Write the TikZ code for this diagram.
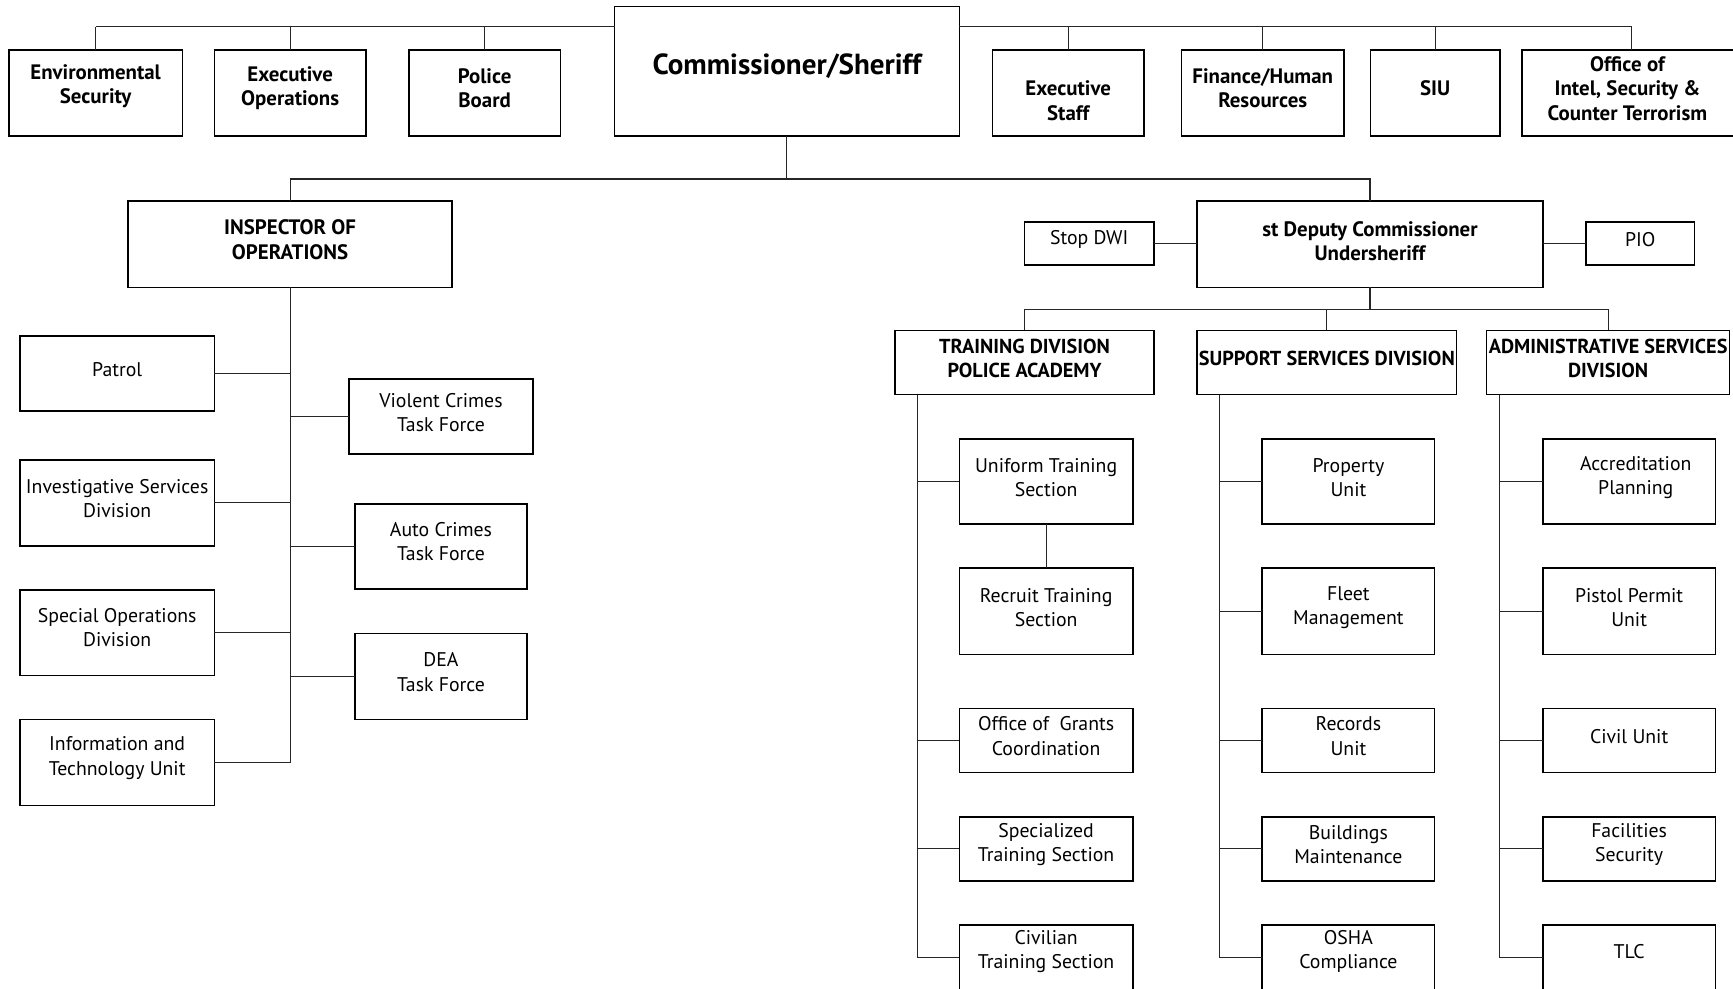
\documentclass[tikz,border=0pt]{standalone}
\usepackage{fontspec}
\setmainfont{PT Sans}
\tikzset{
  box/.style={draw=black, line width=1.4pt, rectangle, inner sep=0pt, outer sep=0pt},
  lbl/.style={font=\fontsize{17.9}{22}\selectfont, align=center, inner sep=0pt, text=black},
  bld/.style={font=\bfseries\fontsize{18.9}{22}\selectfont},
  dvb/.style={font=\bfseries\fontsize{18.3}{22}\selectfont},
  big/.style={font=\bfseries\fontsize{26.3}{30}\selectfont},
  conn/.style={draw=black!85, line width=1pt}
}
\newcommand\org[8][]{%
  \node[box, minimum width={#5-#3}, minimum height={#6-#4},
    label={[lbl,#1,yshift={(#4+#6)/2-#7-1}]center:{#8}}]
    (#2) at ({(#3+#5)/2},{(#4+#6)/2}) {};}
\begin{document}
\begin{tikzpicture}[x=1pt,y=-1pt]
\useasboundingbox (0,0) rectangle (1568,894);
\clip (0,0) rectangle (1568,894);
\fill[white] (0,0) rectangle (1568,894);
% top row
\org[bld]{envsec}{8}{45}{165}{123}{77}{Environmental\\Security}
\org[bld]{execops}{194}{45}{331}{123}{79}{Executive\\Operations}
\org[bld]{policeb}{370}{45}{507}{123}{79}{Police\\Board}
\org[big]{comm}{556}{6}{868}{123}{59}{Commissioner/Sheriff}
\org[bld]{execstaff}{898}{45}{1035}{123}{90}{Executive\\Staff}
\org[bld]{finance}{1069}{45}{1216}{123}{79}{Finance/Human\\Resources}
\org[bld]{siu}{1240}{45}{1357}{123}{79}{SIU}
\org[bld,xshift=-4pt]{intel}{1377}{45}{1576}{123}{79}{Office of\\Intel, Security \&\\Counter Terrorism}
% inspector branch
\org[bld]{insp}{116}{182}{409}{260}{216}{INSPECTOR OF\\OPERATIONS}
\org{patrol}{18}{304}{194}{372}{333}{Patrol}
\org{invest}{18}{416}{194}{494}{450}{Investigative Services\\Division}
\org{specops}{18}{534}{194}{611}{567}{Special Operations\\Division}
\org{itu}{18}{651}{194}{729}{685}{Information and\\Technology Unit}
\org{violent}{316}{343}{482}{411}{372}{Violent Crimes\\Task Force}
\org{auto}{321}{456}{477}{533}{489}{Auto Crimes\\Task Force}
\org{dea}{321}{573}{477}{651}{607}{DEA\\Task Force}
% deputy branch
\org[bld]{deputy}{1083}{182}{1396}{260}{217}{st Deputy Commissioner\\Undersheriff}
\org{stopdwi}{927}{201}{1044}{240}{216}{Stop DWI}
\org{pio}{1435}{201}{1533}{240}{216}{PIO}
\org[dvb]{train}{810}{299}{1044}{357}{323}{TRAINING DIVISION\\POLICE ACADEMY}
\org[dvb]{support}{1083}{299}{1318}{357}{323}{SUPPORT SERVICES DIVISION}
\org[dvb]{admin}{1345}{299}{1565}{357}{323}{ADMINISTRATIVE SERVICES\\DIVISION}
% training column
\org{uniform}{868}{397}{1025}{474}{431}{Uniform Training\\Section}
\org{recruit}{868}{514}{1025}{592}{549}{Recruit Training\\Section}
\org{grants}{868}{641}{1025}{699}{665}{Office of~ Grants\\Coordination}
\org{special}{868}{739}{1025}{797}{763}{Specialized\\Training Section}
\org{civilian}{868}{837}{1025}{896}{860}{Civilian\\Training Section}
% support column
\org{property}{1142}{397}{1298}{474}{431}{Property\\Unit}
\org{fleet}{1142}{514}{1298}{592}{549}{Fleet\\Management}
\org{records}{1142}{641}{1298}{699}{665}{Records\\Unit}
\org{buildings}{1142}{739}{1298}{797}{763}{Buildings\\Maintenance}
\org{osha}{1142}{837}{1298}{896}{860}{OSHA\\Compliance}
% admin column
\org[xshift=6pt]{accred}{1396}{397}{1552}{474}{431}{Accreditation\\Planning}
\org{pistol}{1396}{514}{1552}{592}{549}{Pistol Permit\\Unit}
\org{civil}{1396}{641}{1552}{699}{665}{Civil Unit}
\org{facil}{1396}{739}{1552}{797}{763}{Facilities\\Security}
\org{tlc}{1396}{837}{1552}{896}{860}{TLC}
% coordinates for bus lines
\coordinate (top) at (0,24);
\coordinate (mid) at (0,162);
\coordinate (div) at (0,280);
\coordinate (tsp) at (830,357);
\coordinate (ssp) at (1103,357);
\coordinate (asp) at (1357,357);
% top bus
\draw[conn] (envsec.north |- top) -- (comm.west |- top);
\draw[conn] (comm.east |- top) -- (intel.north |- top);
\foreach \n in {envsec,execops,policeb,execstaff,finance,siu,intel}
  \draw[conn] (\n.north) -- (\n.north |- top);
% commissioner to branches
\draw[conn] (comm.south) -- (comm.south |- mid);
\draw[conn] (insp.north) -- (insp.north |- mid) -- (deputy.north |- mid) -- (deputy.north);
% inspector spine
\draw[conn] (insp.south) -- (insp.south |- itu.east);
\foreach \n in {patrol,invest,specops,itu}
  \draw[conn] (\n.east) -- (\n.east -| insp.south);
\foreach \n in {violent,auto,dea}
  \draw[conn] (\n.west) -- (\n.west -| insp.south);
% deputy
\draw[conn] (stopdwi.east) -- (stopdwi.east -| deputy.west);
\draw[conn] (pio.west) -- (pio.west -| deputy.east);
\draw[conn] (deputy.south) -- (deputy.south |- div);
\draw[conn] (train.north) -- (train.north |- div) -- (admin.north |- div) -- (admin.north);
\draw[conn] (support.north) -- (support.north |- div);
% spines
\draw[conn] (tsp) -- (tsp |- civilian.west);
\draw[conn] (ssp) -- (ssp |- osha.west);
\draw[conn] (asp) -- (asp |- tlc.west);
\foreach \n in {uniform,grants,special,civilian}
  \draw[conn] (\n.west) -- (\n.west -| tsp);
\draw[conn] (uniform.south) -- (recruit.north);
\foreach \n in {property,fleet,records,buildings,osha}
  \draw[conn] (\n.west) -- (\n.west -| ssp);
\foreach \n in {accred,pistol,civil,facil,tlc}
  \draw[conn] (\n.west) -- (\n.west -| asp);
\end{tikzpicture}
\end{document}
